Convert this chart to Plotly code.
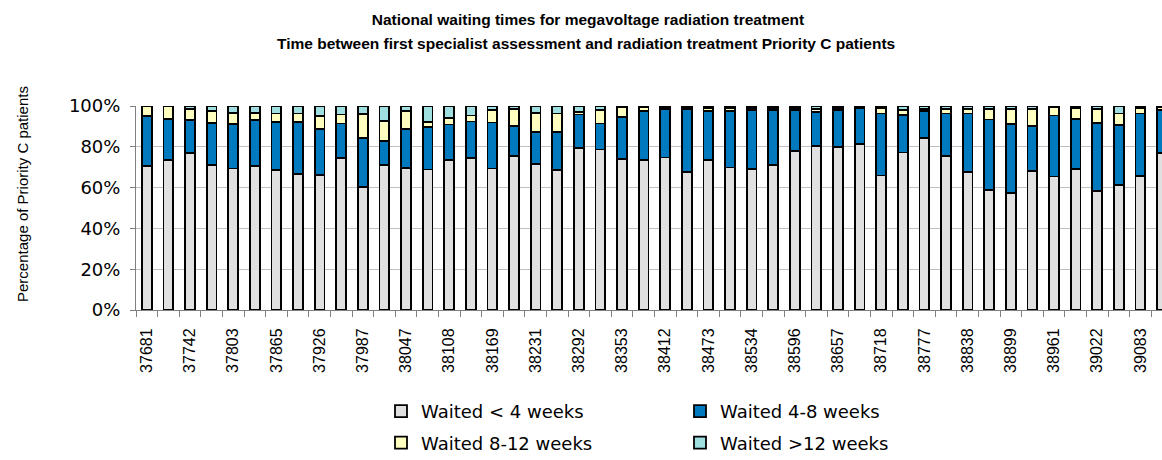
import plotly.graph_objects as go

# Month categories (Excel date serials, first of each month Mar 2003 - Feb 2007)
months = [
    "37681", "37712", "37742", "37773", "37803", "37834", "37865", "37895",
    "37926", "37956", "37987", "38018", "38047", "38078", "38108", "38139",
    "38169", "38200", "38231", "38261", "38292", "38322", "38353", "38384",
    "38412", "38443", "38473", "38504", "38534", "38565", "38596", "38626",
    "38657", "38687", "38718", "38749", "38777", "38808", "38838", "38869",
    "38899", "38930", "38961", "38991", "39022", "39052", "39083", "39114",
]

# Percentages of Priority C patients
waited_lt4 = [
    70.7, 73.5, 77.1, 70.9, 69.4, 70.6, 68.6, 66.7, 66.2, 74.6, 60.2, 71.1,
    69.8, 68.9, 73.5, 74.5, 69.4, 75.6, 71.4, 68.6, 79.5, 78.7, 74.0, 73.5,
    74.8, 67.6, 73.5, 69.9, 69.1, 70.9, 77.9, 80.5, 80.0, 81.5, 65.9, 77.2,
    84.4, 75.6, 67.6, 59.0, 57.2, 68.1, 65.4, 69.1, 58.5, 61.1, 65.7, 77.0,
]
waited_4_8 = [
    24.3, 20.2, 16.2, 20.8, 21.7, 22.4, 23.6, 25.3, 22.6, 16.8, 24.2, 11.8,
    19.0, 20.9, 17.4, 17.9, 22.5, 14.5, 15.9, 18.7, 16.3, 12.7, 20.6, 24.1,
    23.6, 30.8, 24.2, 27.5, 28.9, 27.1, 20.1, 16.6, 18.0, 17.7, 30.4, 18.2,
    13.0, 20.7, 28.7, 34.4, 33.9, 22.0, 29.9, 24.4, 33.2, 29.6, 30.6, 21.0,
]
waited_8_12 = [
    5.0, 6.3, 5.1, 5.7, 5.3, 3.7, 4.1, 4.3, 6.2, 4.4, 11.7, 9.8,
    8.6, 2.2, 3.1, 2.9, 6.3, 8.6, 9.3, 9.0, 1.3, 6.5, 5.1, 1.9,
    1.0, 1.0, 1.5, 1.6, 1.2, 1.2, 1.2, 1.6, 1.2, 0.5, 2.9, 2.8,
    1.3, 2.1, 2.4, 5.2, 7.6, 8.3, 4.2, 5.7, 7.0, 5.6, 2.9, 1.5,
]
waited_gt12 = [
    0.0, 0.0, 1.6, 2.6, 3.6, 3.3, 3.7, 3.7, 5.0, 4.2, 3.9, 7.3,
    2.6, 8.0, 6.0, 4.7, 1.8, 1.3, 3.4, 3.7, 2.9, 2.1, 0.3, 0.5,
    0.6, 0.6, 0.8, 1.0, 0.8, 0.8, 0.8, 1.3, 0.8, 0.3, 0.8, 1.8,
    1.3, 1.6, 1.3, 1.4, 1.3, 1.6, 0.5, 0.8, 1.3, 3.7, 0.8, 0.5,
]

series_names = ["Waited < 4 weeks", "Waited 4-8 weeks", "Waited 8-12 weeks", "Waited >12 weeks"]
series_values = [waited_lt4, waited_4_8, waited_8_12, waited_gt12]
series_colors = ["#E0E0E0", "#0079BE", "#FFFFC0", "#9FDFE0"]
series_legends = ["legend", "legend2", "legend", "legend2"]

y_tick_values = [0, 20, 40, 60, 80, 100]
y_tick_labels = ["0%", "20%", "40%", "60%", "80%", "100%"]

# show every other month label
x_tick_labels = [m if i % 2 == 0 else "" for i, m in enumerate(months)]

fig = go.Figure()
for name, vals, col, lg in zip(series_names, series_values, series_colors, series_legends):
    fig.add_trace(go.Bar(
        x=months, y=vals, name=name, legend=lg, legendgroup=name,
        marker=dict(color=col, line=dict(color="#000000", width=1.8)),
    ))

fig.update_layout(
    width=1162, height=460,
    barmode="stack", bargap=0.55,
    plot_bgcolor="#FFFFFF", paper_bgcolor="#FFFFFF",
    margin=dict(l=136, r=0, t=106, b=150, autoexpand=False),
    font=dict(family="Liberation Sans, Arial, sans-serif", color="#000000"),
    title=dict(
        text="<b>National waiting times for megavoltage radiation treatment</b>",
        x=0.506, xanchor="center", xref="container",
        y=1 - 20 / 460, yanchor="middle", yref="container",
        font=dict(size=15.5, family="Liberation Sans, Arial, sans-serif", color="#000000"),
    ),
    xaxis=dict(
        type="category", range=[-0.5, 47.0],
        tickmode="array", tickvals=months, ticktext=x_tick_labels,
        tickson="boundaries", ticks="outside", ticklen=6, tickcolor="#808080",
        tickangle=-90, tickfont=dict(size=16, family="Liberation Sans, Arial, sans-serif"),
        ticklabelstandoff=11,
        showline=True, linecolor="#808080", linewidth=1,
        showgrid=False, zeroline=False,
    ),
    yaxis=dict(
        range=[0, 100], tickmode="array", tickvals=y_tick_values, ticktext=y_tick_labels,
        ticks="outside", ticklen=5, tickcolor="#808080",
        tickfont=dict(size=18, family="DejaVu Sans, sans-serif"),
        ticklabelstandoff=6,
        showline=True, linecolor="#808080", linewidth=1,
        showgrid=True, gridcolor="#C0C0C0", gridwidth=1, zeroline=False,
    ),
    legend=dict(
        x=(381 - 136) / 1026, xanchor="left", y=(310 - 393) / 204, yanchor="top",
        orientation="v", traceorder="grouped", tracegroupgap=5,
        font=dict(size=18, family="DejaVu Sans, sans-serif"),
        bgcolor="rgba(0,0,0,0)",
    ),
    legend2=dict(
        x=(680 - 136) / 1026, xanchor="left", y=(310 - 393) / 204, yanchor="top",
        orientation="v", traceorder="grouped", tracegroupgap=5,
        font=dict(size=18, family="DejaVu Sans, sans-serif"),
        bgcolor="rgba(0,0,0,0)",
    ),
    showlegend=True,
)

fig.add_annotation(
    text="<b>Time between first specialist assessment and radiation treatment Priority C patients</b>",
    xref="paper", yref="paper",
    x=(586 - 136) / 1026, y=(310 - 44) / 204, xanchor="center", yanchor="middle",
    showarrow=False,
    font=dict(size=15.5, family="Liberation Sans, Arial, sans-serif", color="#000000"),
)

fig.add_annotation(
    text="Percentage of Priority C patients",
    xref="paper", yref="paper",
    x=(22 - 136) / 1026, y=(310 - 194) / 204, xanchor="center", yanchor="middle",
    textangle=-90, showarrow=False,
    font=dict(size=15, family="Liberation Sans, Arial, sans-serif", color="#000000"),
)

# remove the browser's default 8px page margin so the figure sits at the window origin
fig.write_html(
    "out.html",
    config={"displayModeBar": False},
    post_script="document.body.style.margin='0';",
)
